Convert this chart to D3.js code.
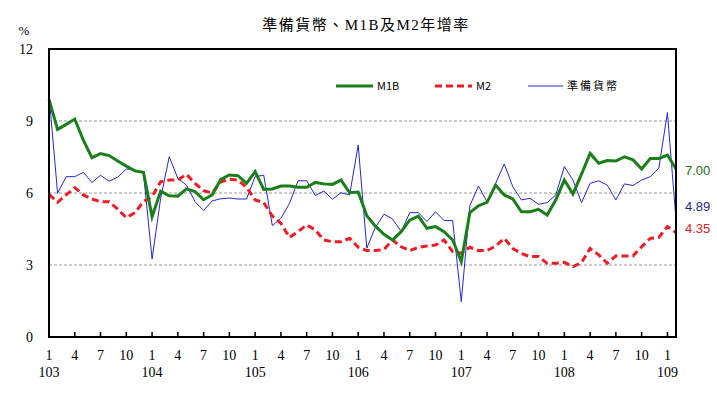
<!DOCTYPE html>
<html>
<head>
<meta charset="utf-8">
<script src="https://cdn.jsdelivr.net/npm/d3@7"></script>
<style>
  body { margin: 0; background: #fff; }
  text { font-family: "Liberation Serif", "Noto Sans CJK TC", serif; }
</style>
</head>
<body>
<svg id="plotarea" width="717" height="395"></svg>
<script>
// months from 103/1 to 109/2
var years = ["103", "104", "105", "106", "107", "108", "109"];
var monthTicks = ["1", "4", "7", "10"];

var m1b = [9.9, 8.65, 8.86, 9.08, 8.2, 7.47, 7.64, 7.56, 7.33, 7.12, 6.92, 6.86,
           5.01, 6.08, 5.88, 5.87, 6.17, 6.06, 5.72, 5.92, 6.57, 6.75, 6.72, 6.4,
           6.89, 6.15, 6.17, 6.29, 6.29, 6.24, 6.24, 6.44, 6.38, 6.36, 6.54, 6.01,
           6.04, 5.05, 4.62, 4.28, 4.04, 4.39, 4.87, 5.04, 4.53, 4.6, 4.39, 4.04,
           3.14, 5.18, 5.47, 5.61, 6.33, 5.92, 5.75, 5.22, 5.22, 5.32, 5.08, 5.71,
           6.54, 5.96, 6.79, 7.65, 7.24, 7.35, 7.33, 7.51, 7.38, 7.0, 7.44, 7.44,
           7.58, 7.00];

var m2 = [5.94, 5.61, 5.92, 6.22, 5.92, 5.75, 5.64, 5.64, 5.33, 4.97, 5.18, 5.64,
          5.85, 6.47, 6.54, 6.54, 6.78, 6.4, 6.1, 6.0, 6.47, 6.57, 6.54, 6.24,
          5.71, 5.6, 5.04, 4.74, 4.15, 4.39, 4.67, 4.46, 4.04, 3.97, 3.97, 4.11,
          3.74, 3.6, 3.6, 3.65, 4.04, 3.76, 3.6, 3.74, 3.79, 3.83, 4.04, 3.56,
          3.49, 3.74, 3.6, 3.6, 3.79, 4.11, 3.69, 3.48, 3.35, 3.35, 3.07, 3.07,
          3.11, 2.93, 3.1, 3.69, 3.42, 3.07, 3.38, 3.38, 3.38, 3.76, 4.11, 4.15,
          4.6, 4.35];

var reserve = [10.1, 5.99, 6.68, 6.68, 6.86, 6.44, 6.74, 6.49, 6.66, 7.0, 6.96, 6.83,
               3.25, 5.78, 7.51, 6.61, 6.33, 5.64, 5.27, 5.67, 5.76, 5.79, 5.75, 5.75,
               6.68, 6.74, 4.64, 4.94, 5.57, 6.51, 6.51, 5.9, 6.08, 5.74, 6.01, 5.92,
               8.0, 3.7, 4.57, 5.12, 4.92, 4.39, 5.18, 5.18, 4.81, 5.22, 4.85, 4.85,
               1.47, 5.47, 6.29, 5.64, 6.4, 7.21, 6.26, 5.71, 5.78, 5.53, 5.6, 5.92,
               7.1, 6.54, 5.6, 6.4, 6.51, 6.33, 5.71, 6.38, 6.31, 6.54, 6.68, 7.03,
               9.35, 4.89];

var yTicks = [0, 3, 6, 9, 12];

var margin = {top: 49, right: 41, bottom: 58, left: 49};
var width = 717 - margin.left - margin.right;
var height = 395 - margin.top - margin.bottom;

var svg = d3.select("#plotarea");

var x = d3.scaleLinear().domain([0, m1b.length - 1]).range([0, width]);
var y = d3.scaleLinear().domain([0, 12]).range([height, 0]);

var g = svg.append("g")
    .attr("transform", "translate(" + margin.left + "," + margin.top + ")");

// Title
svg.append("text")
    .attr("x", 366)
    .attr("y", 30)
    .attr("text-anchor", "middle")
    .style("font-size", "15px")
    .style("letter-spacing", "1.5px")
    .text("準備貨幣、M1B及M2年增率");

svg.append("text")
    .attr("x", 24)
    .attr("y", 35)
    .attr("text-anchor", "middle")
    .style("font-size", "13px")
    .text("%");

// gridlines
g.selectAll(".grid")
    .data([3, 6, 9])
    .enter()
    .append("line")
    .attr("x1", 0)
    .attr("x2", width)
    .attr("y1", function (d) { return y(d); })
    .attr("y2", function (d) { return y(d); })
    .attr("stroke", "#999")
    .attr("stroke-width", 1)
    .attr("stroke-dasharray", "3,2");

// y axis labels
g.selectAll(".ylab")
    .data(yTicks)
    .enter()
    .append("text")
    .attr("x", -16)
    .attr("y", function (d) { return y(d) + 5; })
    .attr("text-anchor", "end")
    .style("font-size", "14px")
    .text(function (d) { return d; });

// x ticks every 3 months, pointing inward
var tickIdx = d3.range(0, m1b.length, 3);
g.selectAll(".xtick")
    .data(tickIdx)
    .enter()
    .append("line")
    .attr("x1", function (d) { return x(d); })
    .attr("x2", function (d) { return x(d); })
    .attr("y1", height)
    .attr("y2", height - 5)
    .attr("stroke", "#000")
    .attr("stroke-width", 1.5);

g.selectAll(".mlab")
    .data(tickIdx)
    .enter()
    .append("text")
    .attr("x", function (d) { return x(d); })
    .attr("y", height + 23)
    .attr("text-anchor", "middle")
    .style("font-size", "14px")
    .text(function (d) { return monthTicks[(d % 12) / 3]; });

g.selectAll(".ylabx")
    .data(years)
    .enter()
    .append("text")
    .attr("x", function (d, i) { return x(i * 12); })
    .attr("y", height + 40)
    .attr("text-anchor", "middle")
    .style("font-size", "14px")
    .text(function (d) { return d; });

// lines
var line = d3.line()
    .x(function (d, i) { return x(i); })
    .y(function (d) { return y(d); });

g.append("path")
    .attr("d", line(reserve))
    .attr("fill", "none")
    .attr("stroke", "#2626d9")
    .attr("stroke-width", 1);

g.append("path")
    .attr("d", line(m2))
    .attr("fill", "none")
    .attr("stroke", "#ee1c25")
    .attr("stroke-width", 3)
    .attr("stroke-dasharray", "7,4");

g.append("path")
    .attr("d", line(m1b))
    .attr("fill", "none")
    .attr("stroke", "#1a7f1a")
    .attr("stroke-width", 3);

// frame
g.append("rect")
    .attr("x", 0)
    .attr("y", 0)
    .attr("width", width)
    .attr("height", height)
    .attr("fill", "none")
    .attr("stroke", "#000")
    .attr("stroke-width", 2);

// end value labels
var last = m1b.length - 1;
var endLabels = [
    {v: m1b[last], ty: 170, c: "#1a6e1a"},
    {v: reserve[last], ty: 206, c: "#1f1f8f"},
    {v: m2[last], ty: 228, c: "#e02020"}
];
svg.selectAll(".endlab")
    .data(endLabels)
    .enter()
    .append("text")
    .attr("x", 685)
    .attr("y", function (d) { return d.ty + 5; })
    .style("font-family", "'Liberation Sans', sans-serif")
    .style("font-size", "13px")
    .attr("fill", function (d) { return d.c; })
    .text(function (d) { return d.v.toFixed(2); });

// legend
var legend = [
    {name: "M1B", c: "#1a7f1a", w: 3, dash: null, x1: 336, x2: 373},
    {name: "M2", c: "#ee1c25", w: 3, dash: "7,4", x1: 435, x2: 472},
    {name: "準備貨幣", c: "#2626d9", w: 1, dash: null, x1: 528, x2: 563}
];
var lg = svg.selectAll(".legend")
    .data(legend)
    .enter()
    .append("g");
lg.append("line")
    .attr("x1", function (d) { return d.x1; })
    .attr("x2", function (d) { return d.x2; })
    .attr("y1", 86)
    .attr("y2", 86)
    .attr("stroke", function (d) { return d.c; })
    .attr("stroke-width", function (d) { return d.w; })
    .attr("stroke-dasharray", function (d) { return d.dash; });
lg.append("text")
    .attr("x", function (d) { return d.x2 + 4; })
    .attr("y", 90)
    .style("font-family", "'Liberation Sans Narrow', 'Noto Sans CJK TC', sans-serif")
    .style("font-size", "11px")
    .style("letter-spacing", function (d) { return d.name.length > 3 ? "2px" : "0px"; })
    .text(function (d) { return d.name; });
</script>
</body>
</html>
